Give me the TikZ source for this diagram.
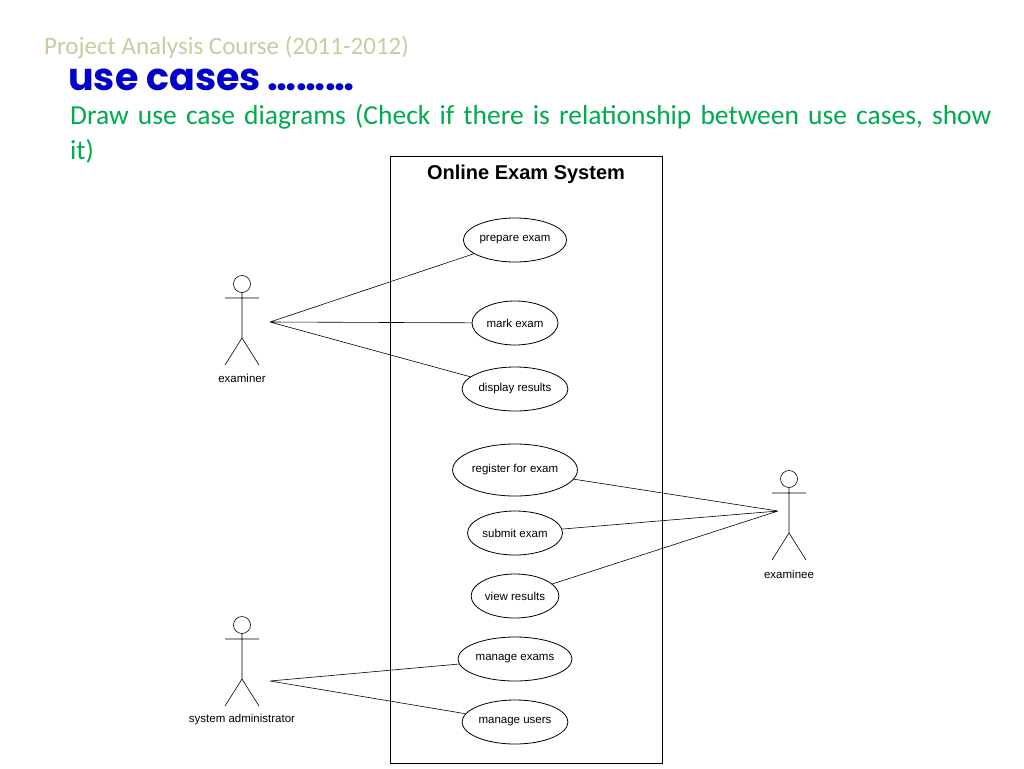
\documentclass[tikz,border=0pt]{standalone}
\usepackage{fontspec}
\setmainfont{Carlito}
\newfontfamily\arialf{Liberation Sans}
\newfontfamily\comicf{Poppins}
\usetikzlibrary{shapes.geometric}
\definecolor{olivet}{RGB}{196,206,160}
\definecolor{titleblue}{RGB}{0,0,200}
\definecolor{greent}{RGB}{0,170,80}
\begin{document}
\begin{tikzpicture}[x=1pt,y=-1pt,
  uc/.style={ellipse,draw,thick,minimum height=44pt,minimum width=88pt,inner sep=1pt,font=\arialf\fontsize{11.5}{13}\selectfont},
  lbl/.style={font=\arialf\fontsize{11.5}{13}\selectfont},
  ln/.style={draw,line width=0.6pt}]
\useasboundingbox (0,0) rectangle (1024,768);
\node[anchor=west,text=olivet,font=\fontsize{25}{28}\selectfont,inner sep=0pt] (h1) at (44,47) {Project Analysis Course (2011-2012)};
\node[anchor=west,text=titleblue,font=\comicf\bfseries\fontsize{38}{42}\selectfont,inner sep=0pt] (h2) at (68,80) {use cases\,\ldots\ldots\ldots};
\node[anchor=north west,text=greent,font=\fontsize{27.5}{35}\selectfont,text width=940pt,align=left,inner sep=0pt] (h3) at (70,104) {Draw use case diagrams (Check if there is relationship between use cases, show it)};
\draw[line width=0.7pt] (390,156) rectangle (662,763);
\node[font=\arialf\bfseries\fontsize{20}{22}\selectfont] (sys) at (526,174) {Online Exam System};
\node[uc,minimum width=90pt] (u1) at (515,240) {prepare exam};
\node[uc,minimum width=86pt] (u2) at (515,323) {mark exam};
\node[uc,minimum width=90pt] (u3) at (515,389) {display results};
\node[uc,minimum width=104pt,minimum height=52pt] (u4) at (515,470) {register for exam};
\node[uc,minimum width=86pt] (u5) at (515,533) {submit exam};
\node[uc,minimum width=86pt] (u6) at (515,596) {view results};
\node[uc,minimum width=96pt] (u7) at (515,659) {manage exams};
\node[uc,minimum width=90pt] (u8) at (515,722) {manage users};
\newcommand{\actor}[2]{%
  \draw[line width=0.6pt] (#1,#2) circle (8.5);
  \draw[line width=0.6pt] (#1,#2+8.5) -- (#1,#2+54) (#1-17,#2+14) -- (#1+17,#2+14)
     (#1-17,#2+81) -- (#1,#2+54) -- (#1+17,#2+81);}
\actor{242}{284}
\actor{789}{479}
\actor{242}{625}
\node[lbl] (a1) at (242,378) {examiner};
\node[lbl] (a2) at (789,574) {examinee};
\node[lbl] (a3) at (242,720) {system administrator};
\coordinate (p1) at (270,322);
\coordinate (p2) at (778,511);
\coordinate (p3) at (270,681);
\draw[ln] (p1) -- (u1) (p1) -- (u2) (p1) -- (u3);
\draw[ln] (p2) -- (u4) (p2) -- (u5) (p2) -- (u6);
\draw[ln] (p3) -- (u7) (p3) -- (u8);
\end{tikzpicture}
\end{document}
